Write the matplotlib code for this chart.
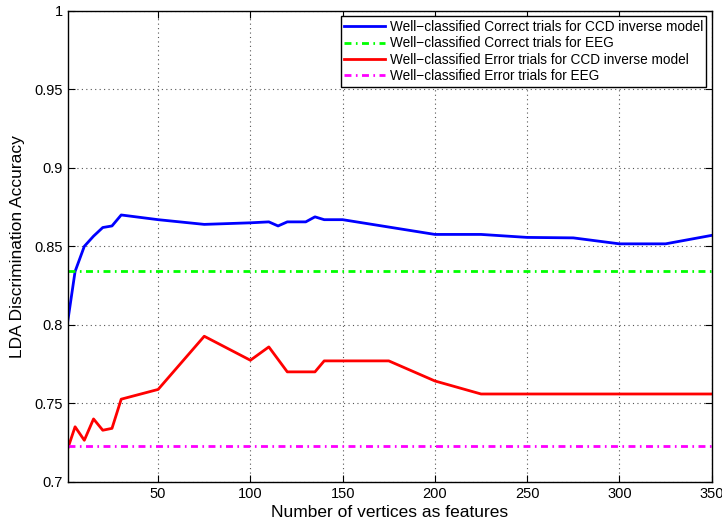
import matplotlib
matplotlib.use("Agg")
import matplotlib.pyplot as plt

plt.rcParams['font.family'] = ['Liberation Sans', 'DejaVu Sans']

# Accuracy vs number of vertices (CCD inverse model)
correct_x = [1, 5, 10, 15, 20, 25, 30, 50, 75, 100, 110, 115, 120, 130, 135, 140, 150,
             200, 225, 250, 275, 300, 325, 350]
correct_ccd = [0.802, 0.834, 0.850, 0.8565, 0.862, 0.863, 0.870, 0.867, 0.864, 0.865,
               0.8656, 0.863, 0.8656, 0.8656, 0.8688, 0.867, 0.867,
               0.8576, 0.8576, 0.8557, 0.8554, 0.8516, 0.8516, 0.857]

error_x = [1, 5, 10, 15, 20, 25, 30, 50, 75, 100, 110, 120, 135, 140, 175,
           200, 225, 250, 275, 300, 325, 350]
error_ccd = [0.721, 0.735, 0.7264, 0.740, 0.7328, 0.734, 0.7526, 0.7588, 0.7927, 0.7774,
             0.7859, 0.770, 0.770, 0.777, 0.777,
             0.7642, 0.7559, 0.7559, 0.7559, 0.7559, 0.7559, 0.7559]

# EEG baselines (constant across the vertex count)
eeg_x = [1, 350]
correct_eeg = 0.834
error_eeg = 0.723

labels = [
    "Well\u2212classified Correct trials for CCD inverse model",
    "Well\u2212classified Correct trials for EEG",
    "Well\u2212classified Error trials for CCD inverse model",
    "Well\u2212classified Error trials for EEG",
]

fig = plt.figure(figsize=(7.22, 5.25), dpi=100)
ax = fig.add_axes([67.7 / 722, 1 - 481.7 / 525, (711.7 - 67.7) / 722, (481.7 - 11) / 525])

dashdot = (0, (2.5, 1.6, 0.6, 1.6))
ax.plot(correct_x, correct_ccd, color='#0000ff', lw=2, label=labels[0])
ax.plot(eeg_x, [correct_eeg] * 2, color='#00ff00', lw=2, linestyle=dashdot, label=labels[1])
ax.plot(error_x, error_ccd, color='#ff0000', lw=2, label=labels[2])
ax.plot(eeg_x, [error_eeg] * 2, color='#ff00ff', lw=2, linestyle=dashdot, label=labels[3])

ax.set_xlim(1, 350)
ax.set_ylim(0.7, 1.0)
ax.set_xticks([50, 100, 150, 200, 250, 300, 350])
ax.set_yticks([0.7, 0.75, 0.8, 0.85, 0.9, 0.95, 1.0])
ax.set_yticklabels(["0.7", "0.75", "0.8", "0.85", "0.9", "0.95", "1"])
ax.tick_params(direction='in', length=5, width=0.8, labelsize=10.5, top=True, right=True,
               colors='black')
ax.grid(True, linestyle=(0, (1, 3)), color='#555555', linewidth=0.8)
for s in ax.spines.values():
    s.set_linewidth(1.0)

ax.set_xlabel("Number of vertices as features", fontsize=12.5, labelpad=3)
ax.set_ylabel("LDA Discrimination Accuracy", fontsize=12.5, labelpad=7)

leg = ax.legend(loc='upper right', fontsize=9.8, handlelength=3.0, handletextpad=0.35,
                borderpad=0.25, labelspacing=0.18, borderaxespad=0.4, fancybox=False,
                framealpha=1, edgecolor='black')
leg.get_frame().set_linewidth(1.0)

fig.savefig("out.png", dpi=100)
